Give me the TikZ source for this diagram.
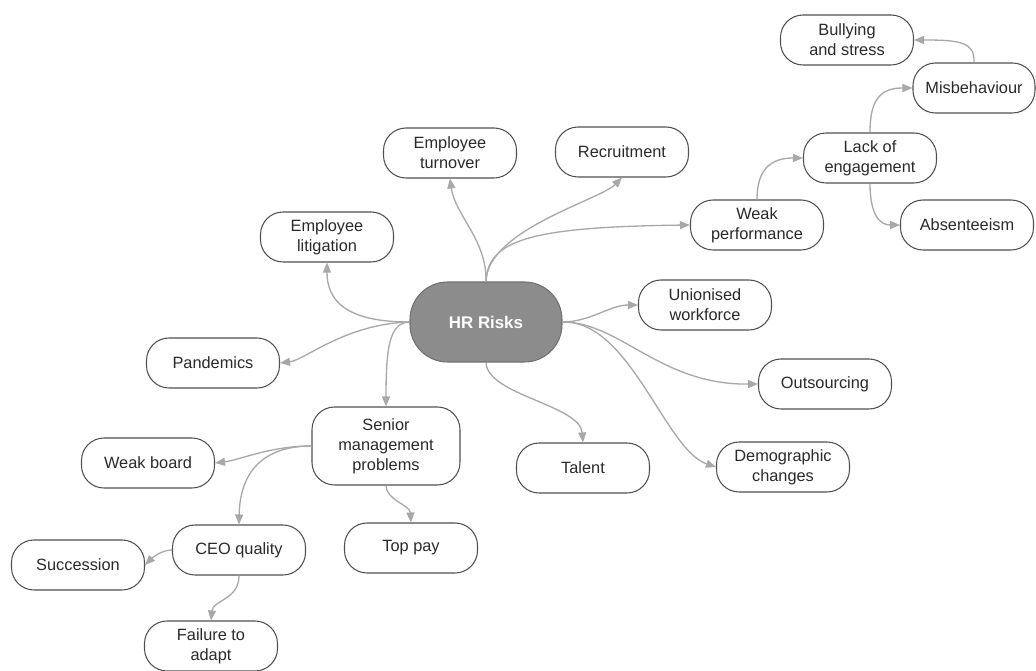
\documentclass[tikz,border=0pt]{standalone}
\usepackage{fontspec}
\setmainfont{Liberation Sans}
\usetikzlibrary{arrows.meta}
\definecolor{hrgray}{HTML}{8C8C8C}
\definecolor{linkgray}{HTML}{A8A8A8}
\definecolor{boxline}{HTML}{505050}
\definecolor{txt}{HTML}{2A2A2A}
\begin{document}
\begin{tikzpicture}[x=0.02cm,y=-0.02cm,
  box/.style={draw=boxline, line width=0.6pt, fill=white, rounded corners=0.45cm,
    minimum width=2.66cm, minimum height=1cm, align=center, inner sep=2pt,
    font=\fontsize{9.3}{11.3}\selectfont, text=txt},
  hub/.style={draw=hrgray!80!black, line width=0.6pt, fill=hrgray, rounded corners=0.75cm,
    minimum width=3.04cm, minimum height=1.6cm, align=center,
    font=\fontsize{9.6}{11.5}\selectfont\bfseries, text=white},
  link/.style={draw=linkgray, line width=0.75pt, -{Triangle[length=0.2cm,width=0.16cm]}}
]
\useasboundingbox (0,0) rectangle (1036,671);
\fill[white] (0,0) rectangle (1036,671);

% nodes
\node[hub] (hr) at (486,322) {HR Risks};
\node[box] (turn) at (450,153) {Employee\\turnover};
\node[box] (recr) at (622,152) {Recruitment};
\node[box] (weak) at (757,225) {Weak\\performance};
\node[box] (lack) at (870,158) {Lack of\\engagement};
\node[box, minimum width=2.44cm] (mis) at (974,88) {Misbehaviour};
\node[box] (bully) at (847,40) {Bullying\\and stress};
\node[box] (abs) at (967,225) {Absenteeism};
\node[box] (lit) at (327,237) {Employee\\litigation};
\node[box] (pan) at (213,363) {Pandemics};
\node[box] (union) at (705,305) {Unionised\\workforce};
\node[box] (out) at (825,384) {Outsourcing};
\node[box] (talent) at (583,468) {Talent};
\node[box] (demo) at (783,467) {Demographic\\changes};
\node[box, minimum width=2.96cm, minimum height=1.56cm] (senior) at (386,446) {Senior\\management\\problems};
\node[box] (wboard) at (148,463) {Weak board};
\node[box] (ceo) at (239,550) {CEO quality};
\node[box] (top) at (411,548) {Top pay};
\node[box] (succ) at (78,565) {Succession};
\node[box] (fail) at (211,646) {Failure to\\adapt};

% connectors
\draw[link] (hr.north) .. controls (487,240) and (455,215) .. (turn.south);
\draw[link] (hr.north) .. controls (487,230) and (600,200) .. (recr.south);
\draw[link] (hr.north) .. controls (488,240) and (530,227) .. (weak.west);
\draw[link] (weak.north) .. controls (757,170) and (770,158) .. (lack.west);
\draw[link] (lack.north) .. controls (870,100) and (880,88) .. (mis.west);
\draw[link] (lack.south) .. controls (870,215) and (880,225) .. (abs.west);
\draw[link] (mis.north) .. controls (975,42) and (960,40) .. (bully.east);
\draw[link] (hr.west) .. controls (345,322) and (327,300) .. (lit.south);
\draw[link] (hr.west) .. controls (345,324) and (305,360) .. (pan.east);
\draw[link] (hr.west) .. controls (390,323) and (386,345) .. (senior.north);
\draw[link] (hr.east) .. controls (590,322) and (610,305) .. (union.west);
\draw[link] (hr.east) .. controls (620,322) and (660,385) .. (out.west);
\draw[link] (hr.east) .. controls (630,320) and (665,450) .. (demo.west);
\draw[link] (hr.south) .. controls (487,395) and (580,405) .. (talent.north);
\draw[link] (senior.west) .. controls (270,446) and (240,460) .. (wboard.east);
\draw[link] (senior.west) .. controls (265,446) and (240,470) .. (ceo.north);
\draw[link] (senior.south) .. controls (386,500) and (410,505) .. (top.north);
\draw[link] (ceo.west) .. controls (160,550) and (150,560) .. (succ.east);
\draw[link] (ceo.south) .. controls (239,600) and (213,600) .. (fail.north);
\end{tikzpicture}
\end{document}
